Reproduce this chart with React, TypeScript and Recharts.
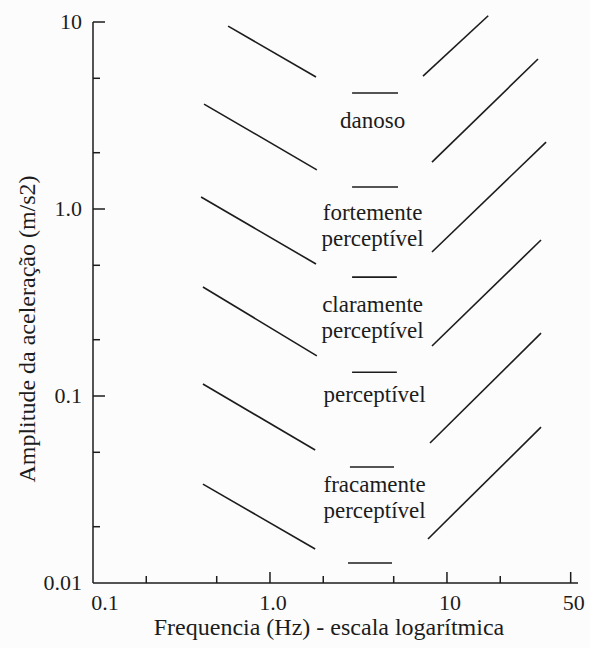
import { LineChart, Line, XAxis, YAxis, ReferenceLine, ReferenceDot } from 'recharts';

// frequency (Hz) / acceleration amplitude (m/s2)
const lowFreqStart = [0.58, 0.424, 0.408, 0.418, 0.418, 0.418];
const lowFreqEnd = [1.82, 1.84, 1.82, 1.84, 1.8, 1.8];
const lowAmpStart = [9.5, 3.64, 1.16, 0.383, 0.116, 0.0338];
const lowAmpEnd = [5.08, 1.62, 0.508, 0.164, 0.0514, 0.0152];

const midFreqStart = [2.91, 2.91, 2.91, 2.91, 2.83, 2.76];
const midFreqEnd = [5.29, 5.29, 5.21, 5.21, 5.02, 4.89];
const midAmp = [4.17, 1.31, 0.432, 0.134, 0.0417, 0.0128];

const highFreqStart = [7.32, 8.23, 8.23, 8.23, 8.02, 7.81];
const highFreqEnd = [17.1, 32.7, 36.3, 34.0, 34.0, 34.0];
const highAmpStart = [5.14, 1.78, 0.589, 0.185, 0.0561, 0.0172];
const highAmpEnd = [10.8, 6.34, 2.28, 0.683, 0.217, 0.0682];

const zoneNames = [
  ['danoso'],
  ['fortemente', 'perceptível'],
  ['claramente', 'perceptível'],
  ['perceptível'],
  ['fracamente', 'perceptível'],
];
const zoneFreq = [3.8, 3.8, 3.8, 3.9, 3.9];
const zoneAmp = [2.99, 0.826, 0.266, 0.1026, 0.0288];

const xTicks = [0.1, 0.2, 0.5, 1, 2, 5, 10, 20, 50];
const xLabels: Record<number, string> = { 0.1: '0.1', 1: '1.0', 10: '10', 50: '50' };
const yTicks = [0.01, 0.02, 0.05, 0.1, 0.2, 0.5, 1, 2, 5, 10];
const yLabels: Record<number, string> = { 0.01: '0.01', 0.1: '0.1', 1: '1.0', 10: '10' };

const FONT = "'Liberation Serif', 'DejaVu Serif', serif";
const INK = '#1c1c1c';
const txt = { fontFamily: FONT, fill: INK };

const segments = [
  ...lowFreqStart.map((f, i) => [
    { x: f, y: lowAmpStart[i] },
    { x: lowFreqEnd[i], y: lowAmpEnd[i] },
  ]),
  ...midFreqStart.map((f, i) => [
    { x: f, y: midAmp[i] },
    { x: midFreqEnd[i], y: midAmp[i] },
  ]),
  ...highFreqStart.map((f, i) => [
    { x: f, y: highAmpStart[i] },
    { x: highFreqEnd[i], y: highAmpEnd[i] },
  ]),
];

const XTick = ({ x, y, payload }: any) => {
  const v = payload.value;
  const label = xLabels[v];
  const len = label ? 11 : 7;
  return (
    <g>
      {v !== 0.1 && <line x1={x} y1={y} x2={x} y2={y - len} stroke={INK} strokeWidth={1.5} />}
      {label && (
        <text x={v === 0.1 ? x + 12 : x + 3} y={y + 27} textAnchor="middle" fontSize={22} style={txt}>
          {label}
        </text>
      )}
    </g>
  );
};

const YTick = ({ x, y, payload }: any) => {
  const v = payload.value;
  const label = yLabels[v];
  const len = label ? 12 : 7;
  return (
    <g>
      {v !== 0.01 && <line x1={x} y1={y} x2={x + len} y2={y} stroke={INK} strokeWidth={1.5} />}
      {label && (
        <text x={x - 11} y={y + 7} textAnchor="end" fontSize={22} style={txt}>
          {label}
        </text>
      )}
    </g>
  );
};

const ZoneLabel = (lines: string[]) => (props: any) => {
  const vb = props.viewBox;
  const cx = vb.x + vb.width / 2;
  const cy = vb.y + vb.height / 2;
  return (
    <text textAnchor="middle" fontSize={23} style={txt}>
      {lines.map((t, i) => (
        <tspan key={i} x={cx} y={cy + 8 + (i - (lines.length - 1) / 2) * 26}>
          {t}
        </tspan>
      ))}
    </text>
  );
};

export default function App() {
  return (
    <div style={{ position: 'absolute', left: 0, top: 0, width: 590, height: 648, background: '#fcfcfc', fontFamily: FONT }}>
      <LineChart width={590} height={648} margin={{ top: 10.65, right: 12, bottom: 0, left: 0 }}>
        <XAxis
          dataKey="x"
          type="number"
          scale="log"
          domain={[0.1, 55]}
          allowDataOverflow
          ticks={xTicks}
          height={65}
          tickSize={0}
          tickMargin={0}
          tickLine={false}
          axisLine={{ stroke: INK, strokeWidth: 1.5 }}
          tick={XTick}
          label={() => (
            <text x={329} y={635} textAnchor="middle" fontSize={24} style={txt}>
              Frequencia (Hz) - escala logarítmica
            </text>
          )}
        />
        <YAxis
          type="number"
          scale="log"
          domain={[0.01, 11.5]}
          allowDataOverflow
          ticks={yTicks}
          width={93}
          tickSize={0}
          tickMargin={0}
          tickLine={false}
          axisLine={false}
          tick={YTick}
          label={() => (
            <text transform="translate(35,329) rotate(-90)" textAnchor="middle" fontSize={24} style={txt}>
              Amplitude da aceleração (m/s2)
            </text>
          )}
        />
        <ReferenceLine
          segment={[{ x: 0.1, y: 0.01 }, { x: 0.1, y: 10 }]}
          stroke={INK}
          strokeWidth={1.5}
        />
        {segments.map((seg, i) => (
          <Line
            key={i}
            data={seg}
            dataKey="y"
            type="linear"
            stroke={INK}
            strokeWidth={1.6}
            dot={false}
            activeDot={false}
            legendType="none"
            isAnimationActive={false}
          />
        ))}
        {zoneNames.map((lines, i) => (
          <ReferenceDot
            key={i}
            x={zoneFreq[i]}
            y={zoneAmp[i]}
            r={1}
            fill="none"
            stroke="none"
            label={ZoneLabel(lines)}
          />
        ))}
      </LineChart>
    </div>
  );
}
